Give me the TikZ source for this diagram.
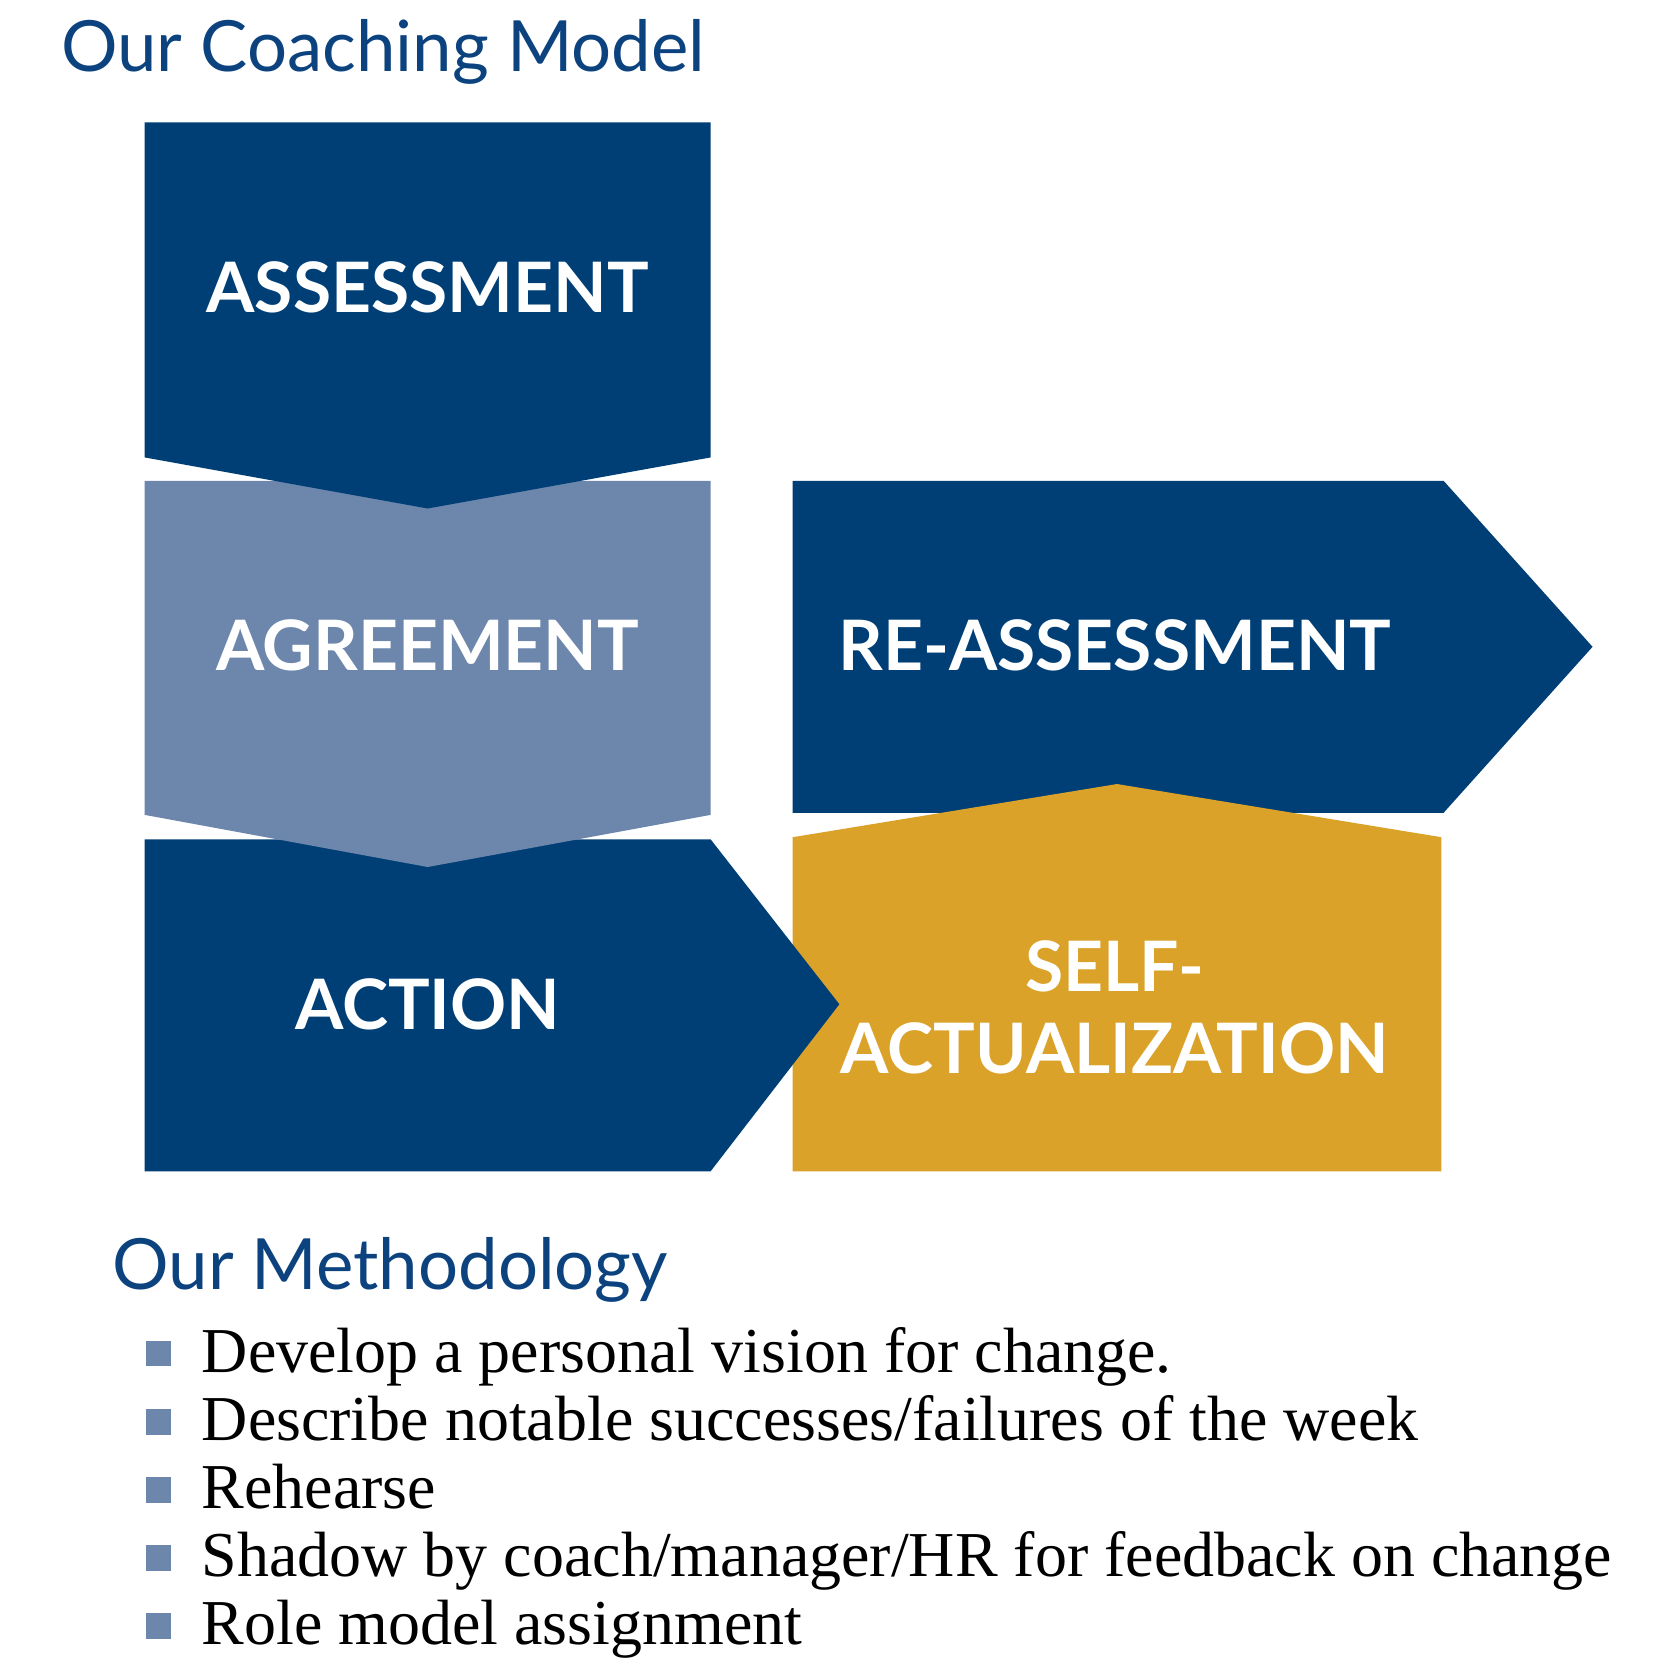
\documentclass[tikz,border=0pt]{standalone}
\usepackage{fontspec}
\setmainfont{Liberation Serif}
\setsansfont{Lato}
\definecolor{navyblue}{HTML}{003F76}
\definecolor{headblue}{HTML}{0C437F}
\definecolor{paleblue}{HTML}{6C86AC}
\definecolor{goldbox}{HTML}{DBA22A}
\tikzset{
  steplabel/.style={text=white, align=center, inner sep=0pt,
    font=\sffamily\bfseries\fontsize{18.6}{21.9}\selectfont},
  heading/.style={anchor=base west, text=headblue, inner sep=0pt,
    font=\sffamily\fontsize{18.9}{23}\selectfont},
  bulletbox/.style={fill=paleblue, minimum size=0.24cm, inner sep=0pt},
  methoditem/.style={anchor=base west, inner sep=0pt,
    font=\fontsize{17.1}{20}\selectfont}
}
\begin{document}
\begin{tikzpicture}[x=0.01cm, y=-0.01cm]
        \useasboundingbox (0,0) rectangle (1567,1567);

        % the headings
        \node[heading] (coachtitle) at (57,67) {Our Coaching Model};
        \node[heading] (methodtitle) at (105,1212) {Our Methodology};

        % the shapes, back to front
        \fill[navyblue] (745,452) -- (1357,452) -- (1497,608) -- (1357,764) -- (745,764) -- cycle;
        \fill[goldbox] (745,787) -- (1050,737) -- (1355,787) -- (1355,1101) -- (745,1101) -- cycle;
        \fill[navyblue] (136,789) -- (668,789) -- (789,944) -- (668,1101) -- (136,1101) -- cycle;
        \fill[paleblue] (136,452) -- (668,452) -- (668,766) -- (402,815) -- (136,766) -- cycle;
        \fill[navyblue] (136,115) -- (668,115) -- (668,430) -- (402,478) -- (136,430) -- cycle;

        % the step labels
        \node[steplabel] (assessment) at (402,270) {ASSESSMENT};
        \node[steplabel] (agreement) at (402,607) {AGREEMENT};
        \node[steplabel] (action) at (402,944) {ACTION};
        \node[steplabel] (reassessment) at (1048,607) {RE-ASSESSMENT};
        \node[steplabel] (selfact) at (1048,947) {SELF-\\ ACTUALIZATION};

        % the methodology list
        \foreach \txt [count=\k] in {Develop a personal vision for change.,
            Describe notable successes/failures of the week, Rehearse,
            Shadow by coach/manager/HR for feedback on change, Role model assignment}
        {
          \node[bulletbox] (bullet\k) at (149,1208.5+64*\k) {};
          \node[methoditem] (item\k) at (189,1226+64*\k) {\txt};
        }
\end{tikzpicture}
\end{document}
